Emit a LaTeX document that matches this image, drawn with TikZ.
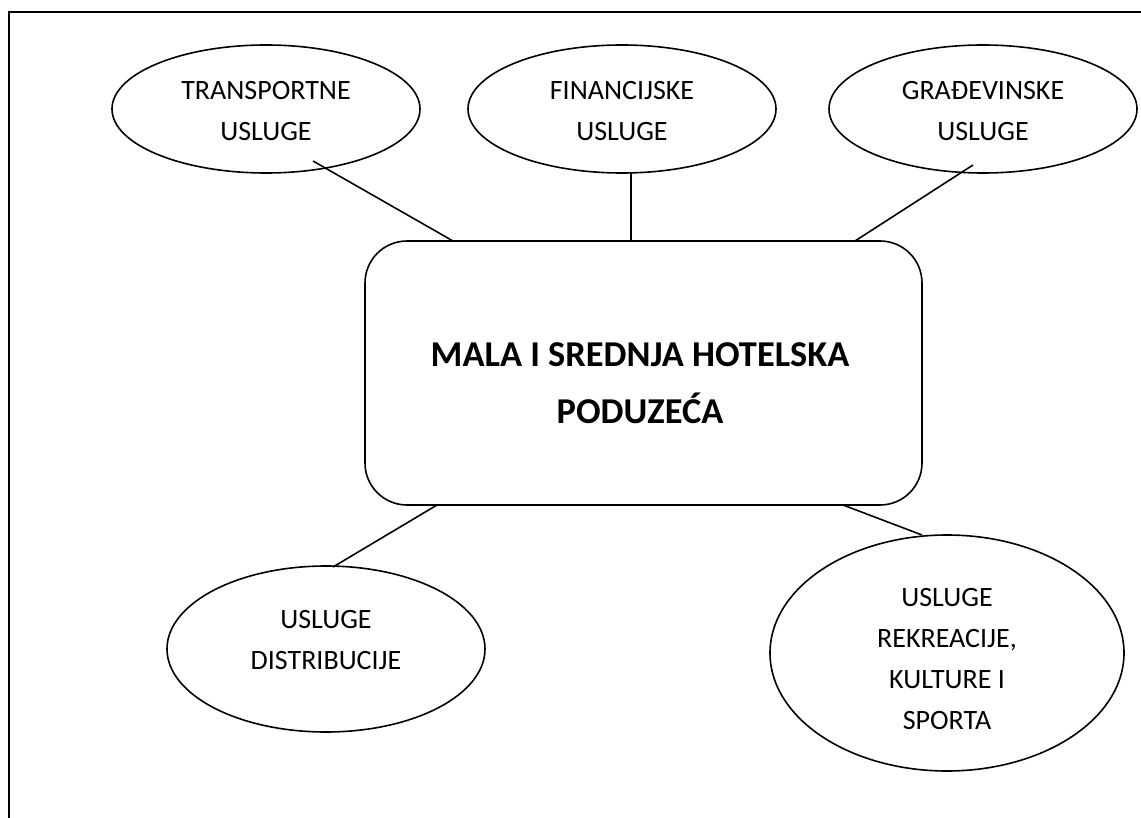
\documentclass[tikz,border=0pt]{standalone}
\usepackage{fontspec}
\setmainfont{Carlito}
\usetikzlibrary{shapes.geometric}
\begin{document}
\begin{tikzpicture}[x=1pt,y=-1pt,
  line width=1.6pt,
  frame/.style={line width=2.5pt},
  oval/.style={draw, ellipse, inner sep=0pt},
  ovaltext/.style={align=center, inner sep=0pt,
    font=\fontsize{28}{41}\selectfont},
  hubbox/.style={draw, rectangle, rounded corners=42pt, inner sep=0pt,
    minimum width=557pt, minimum height=264pt},
  hubtext/.style={align=center, inner sep=0pt,
    font=\bfseries\fontsize{36.4}{57}\selectfont},
  link/.style={line width=1.6pt}]
\useasboundingbox (0,0) rectangle (1141,818);
\draw[frame] (1141,12) -- (9,12) -- (9,818);

\node[hubbox] (hub) at (643.5,373) {};
\node[hubtext] (hubT) at (640,383) {MALA I SREDNJA HOTELSKA\\PODUZEĆA};

\node[oval, minimum width=308pt, minimum height=128pt] (trans) at (266,109) {};
\node[ovaltext] (transT) at (266,111) {TRANSPORTNE\\USLUGE};
\node[oval, minimum width=308pt, minimum height=128pt] (fin) at (622,109) {};
\node[ovaltext] (finT) at (622,111) {FINANCIJSKE\\USLUGE};
\node[oval, minimum width=308pt, minimum height=128pt] (gra) at (983,109) {};
\node[ovaltext] (graT) at (983,111) {GRAĐEVINSKE\\USLUGE};
\node[oval, minimum width=318pt, minimum height=166pt] (dist) at (326,649) {};
\node[ovaltext] (distT) at (326,640) {USLUGE\\DISTRIBUCIJE};
\node[oval, minimum width=354pt, minimum height=236pt] (rek) at (947,653) {};
\node[ovaltext] (rekT) at (947,659) {USLUGE\\REKREACIJE,\\KULTURE I\\SPORTA};

\coordinate (tS) at (313,161);
\coordinate (tE) at (453,241);
\coordinate (fS) at (631,173);
\coordinate (fE) at (631,241);
\coordinate (gS) at (973,165);
\coordinate (gE) at (855,241);
\coordinate (dS) at (437,505);
\coordinate (dE) at (333,567);
\coordinate (rS) at (843,505);
\coordinate (rE) at (922,535);

\draw[link] (tS) -- (tE);
\draw[link] (fS) -- (fE);
\draw[link] (gS) -- (gE);
\draw[link] (dS) -- (dE);
\draw[link] (rS) -- (rE);
\end{tikzpicture}
\end{document}
